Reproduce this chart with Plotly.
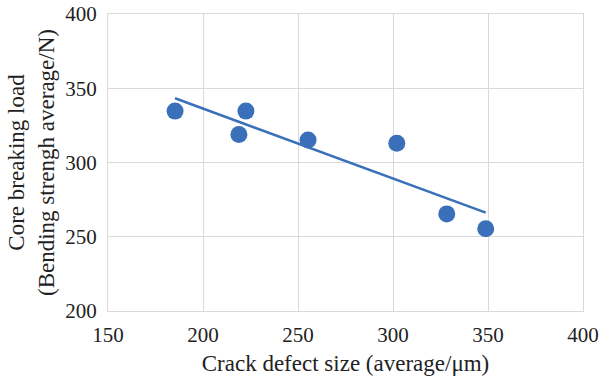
import numpy as np
import plotly.graph_objects as go

crack_size = [185.3, 218.9, 222.6, 255.3, 302.0, 328.3, 348.8]
breaking_load = [334.6, 318.9, 334.6, 315.1, 312.9, 265.4, 255.4]
x_ticks = [150, 200, 250, 300, 350, 400]
y_ticks = [200, 250, 300, 350, 400]

slope, intercept = np.polyfit(crack_size, breaking_load, 1)
tx = [min(crack_size), max(crack_size)]
ty = [slope * v + intercept for v in tx]

color = "#3a6fba"
grid = "#d9d9d9"
font = "Liberation Serif, Times New Roman, DejaVu Serif, serif"
tickfont = dict(family=font, size=21, color="#222222")
titlefont = dict(family=font, size=23, color="#222222")

fig = go.Figure()
fig.add_trace(go.Scatter(x=tx, y=ty, mode="lines",
                         line=dict(color=color, width=2.5), showlegend=False))
fig.add_trace(go.Scatter(x=crack_size, y=breaking_load, mode="markers",
                         marker=dict(color=color, size=17), showlegend=False))

fig.update_layout(
    width=599, height=380,
    margin=dict(l=108, r=16, t=14, b=69, autoexpand=False),
    paper_bgcolor="white", plot_bgcolor="white",
    font=dict(family=font, size=21, color="#222222"),
    xaxis=dict(range=[150, 400], tickvals=x_ticks, showgrid=True, gridcolor=grid,
               gridwidth=1.3, showline=True, mirror=True, linecolor=grid, linewidth=1.3,
               zeroline=False, ticks="", ticklabelstandoff=5, automargin=False,
               tickfont=tickfont,
               title=dict(text="Crack defect size (average/μm)", font=titlefont, standoff=8)),
    yaxis=dict(range=[200, 400], tickvals=y_ticks, showgrid=True, gridcolor=grid,
               gridwidth=1.3, showline=True, mirror=True, linecolor=grid, linewidth=1.3,
               zeroline=False, ticks="", ticklabelstandoff=6, automargin=False,
               tickfont=tickfont,
               title=dict(text="Core breaking load<br>(Bending strengh average/N)",
                          font=titlefont, standoff=4)),
)
fig.write_html("out.html")
